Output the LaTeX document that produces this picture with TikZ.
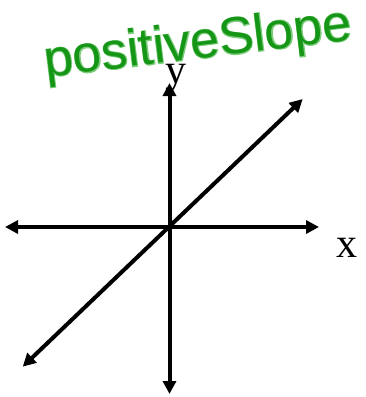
\documentclass[tikz,border=0pt]{standalone}
\usepackage{fontspec}
\setmainfont{Liberation Serif}
\newfontfamily\handfont{Liberation Sans}
\newfontfamily\handhalo[FakeBold=3]{Liberation Sans}
\usetikzlibrary{arrows.meta}
\definecolor{pen}{RGB}{22,150,22}
\definecolor{penhalo}{RGB}{125,205,125}
\tikzset{
  twoway/.style={line width=4pt, {Triangle[length=13pt,width=13pt]}-{Triangle[length=13pt,width=13pt]}, black},
  lbl/.style={font=\fontsize{42}{42}\selectfont, anchor=base, inner sep=0pt}
}
\begin{document}
\begin{tikzpicture}[x=1pt,y=-1pt]
\useasboundingbox (0,0) rectangle (366,397);
% labels
\node[lbl] (ylab) at (176,83) {y};
\node[lbl] (xlab) at (347,257) {x};
% axis ends
\coordinate (L) at (5,227);
\coordinate (R) at (319,227);
\coordinate (T) at (169.5,83);
\coordinate (B) at (169.5,394);
\coordinate (DL) at (22.7,366.7);
\coordinate (UR) at (302.7,99);
\draw[twoway] (L) -- (R);
\draw[twoway] (B) -- (T);
\draw[twoway] (DL) -- (UR);
% handwritten title
\node[rotate=7, inner sep=0pt, text=penhalo, font=\handhalo\fontsize{52}{52}\selectfont] (halo) at (198,45) {positiveSlope};
\node[rotate=7, inner sep=0pt, text=pen, font=\handfont\fontsize{52}{52}\selectfont] (title) at (198,45) {positiveSlope};
\end{tikzpicture}
\end{document}
